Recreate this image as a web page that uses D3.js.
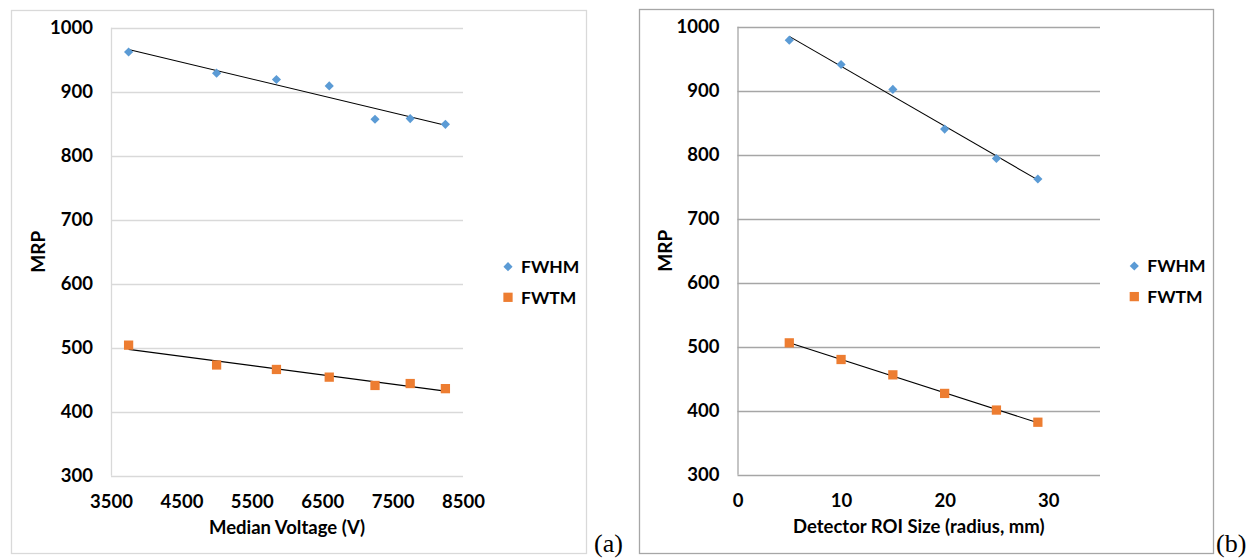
<!DOCTYPE html>
<html>
<head>
<meta charset="utf-8">
<script src="https://cdn.jsdelivr.net/npm/d3@7"></script>
<style>
  body { margin: 0; background: #fff; }
  svg text { font-family: Lato, "Open Sans", sans-serif; font-weight: bold; fill: #000; }
</style>
</head>
<body>
<svg id="chart" width="1251" height="558"></svg>
<script>
// panel (a): MRP vs median voltage
const VOLTAGE = [3750, 5000, 5850, 6600, 7250, 7750, 8250];
const FWHM_A = [962, 929, 919, 909, 857, 858, 849];
const FWTM_A = [504, 473, 466, 454, 441, 444, 436];
const X_TICKS_A = [3500, 4500, 5500, 6500, 7500, 8500];

// panel (b): MRP vs detector ROI size
const ROI = [5, 10, 15, 20, 25, 29];
const FWHM_B = [979, 941, 902, 840, 794, 762];
const FWTM_B = [506, 480, 456, 427, 401, 382];
const X_TICKS_B = [0, 10, 20, 30];

const Y_TICKS = [300, 400, 500, 600, 700, 800, 900, 1000];
const SERIES_NAMES = ['FWHM', 'FWTM'];
const BLUE = '#5b9bd5', ORANGE = '#ed7d31';

const svg = d3.select('#chart');

function fitLine(xs, ys) {
  const mx = d3.mean(xs), my = d3.mean(ys);
  let num = 0, den = 0;
  xs.forEach((x, i) => { num += (x - mx) * (ys[i] - my); den += (x - mx) * (x - mx); });
  const b = num / den;
  return x => my + b * (x - mx);
}

function drawPanel(p) {
  const g = svg.append('g');
  // outer frame
  g.append('rect').attr('x', p.box[0] + 0.5).attr('y', p.box[1] + 0.5)
    .attr('width', p.box[2] - p.box[0]).attr('height', p.box[3] - p.box[1])
    .attr('fill', 'none').attr('stroke', p.frame).attr('stroke-width', 1.3);

  const x = d3.scaleLinear().domain(p.xDomain).range([p.left, p.right]);
  const y = d3.scaleLinear().domain([300, 1000]).range([p.bottom, p.top]);

  // gridlines
  g.append('g').selectAll('line').data(Y_TICKS).enter().append('line')
    .attr('x1', p.left).attr('x2', p.right)
    .attr('y1', d => Math.round(y(d)) + 0.5).attr('y2', d => Math.round(y(d)) + 0.5)
    .attr('stroke', p.grid).attr('stroke-width', 1.3);
  g.append('line').attr('x1', p.left + 0.5).attr('x2', p.left + 0.5)
    .attr('y1', p.top).attr('y2', p.bottom)
    .attr('stroke', p.grid).attr('stroke-width', 1.3);

  // axes (labels only)
  const yAxis = g.append('g').attr('transform', `translate(${p.left - 18},0)`)
    .call(d3.axisLeft(y).tickValues(Y_TICKS).tickSize(0).tickPadding(0).tickFormat(d3.format('d')));
  const xAxis = g.append('g').attr('transform', `translate(0,${p.bottom + 19})`)
    .call(d3.axisBottom(x).tickValues(p.xTicks).tickSize(0).tickPadding(0).tickFormat(d3.format('d')));
  [yAxis, xAxis].forEach(a => {
    a.select('.domain').remove();
    a.selectAll('text').style('font-size', '18.5px').style('font-family', 'Lato, sans-serif')
      .style('font-weight', 'bold').attr('fill', '#000');
  });
  xAxis.selectAll('text').attr('dy', '0.72em');

  // axis titles
  g.append('text').attr('x', (p.left + p.right) / 2).attr('y', p.bottom + 58)
    .attr('text-anchor', 'middle').style('font-size', '18.5px').text(p.xTitle);
  g.append('text').attr('transform', `translate(${p.yTitleX},${(p.top + p.bottom) / 2}) rotate(-90)`)
    .attr('text-anchor', 'middle').attr('dy', '0.36em').style('font-size', '19px').text('MRP');

  // trendlines
  [p.fwhm, p.fwtm].forEach(vals => {
    const f = fitLine(p.xs, vals);
    const x0 = d3.min(p.xs), x1 = d3.max(p.xs);
    g.append('line').attr('x1', x(x0)).attr('y1', y(f(x0)))
      .attr('x2', x(x1)).attr('y2', y(f(x1)))
      .attr('stroke', '#000').attr('stroke-width', 1.1);
  });

  // markers
  const diamond = d3.symbol().type(d3.symbolSquare).size(42);
  const square = d3.symbol().type(d3.symbolSquare).size(86);
  g.append('g').selectAll('path').data(p.xs.map((v, i) => [v, p.fwhm[i]])).enter()
    .append('path').attr('d', diamond)
    .attr('transform', d => `translate(${x(d[0])},${y(d[1])}) rotate(45)`)
    .attr('fill', BLUE);
  g.append('g').selectAll('path').data(p.xs.map((v, i) => [v, p.fwtm[i]])).enter()
    .append('path').attr('d', square)
    .attr('transform', d => `translate(${x(d[0])},${y(d[1])})`)
    .attr('fill', ORANGE);

  // legend
  const lg = g.append('g').attr('transform', `translate(${p.legend[0]},${p.legend[1]})`);
  lg.append('path').attr('d', diamond).attr('transform', 'rotate(45)').attr('fill', BLUE);
  lg.append('path').attr('d', square).attr('transform', 'translate(0,30.6)').attr('fill', ORANGE);
  SERIES_NAMES.forEach((n, i) => {
    lg.append('text').attr('x', 13).attr('y', i * 30.6).attr('dy', '0.36em')
      .style('font-size', '17.5px').text(n);
  });

  // panel tag
  svg.append('text').attr('x', p.tag[0]).attr('y', p.tag[1])
    .style('font-family', '"Liberation Serif", "Times New Roman", serif')
    .style('font-weight', 'normal').style('font-size', '26px').text(p.tagText);
}

drawPanel({
  box: [11, 10, 586, 553], frame: '#d9d9d9', grid: '#d9d9d9',
  left: 111, right: 463, top: 27.7, bottom: 475.7,
  xDomain: [3500, 8500], xTicks: X_TICKS_A, xs: VOLTAGE, fwhm: FWHM_A, fwtm: FWTM_A,
  xTitle: 'Median Voltage (V)', yTitleX: 38, legend: [508, 266.7],
  tag: [594, 552], tagText: '(a)'
});

drawPanel({
  box: [639, 9, 1213, 553], frame: '#a6a6a6', grid: '#a6a6a6',
  left: 737.5, right: 1100, top: 26.7, bottom: 474.7,
  xDomain: [0, 35], xTicks: X_TICKS_B, xs: ROI, fwhm: FWHM_B, fwtm: FWTM_B,
  xTitle: 'Detector ROI Size (radius, mm)', yTitleX: 665, legend: [1134.3, 266],
  tag: [1216, 552], tagText: '(b)'
});
</script>
</body>
</html>
